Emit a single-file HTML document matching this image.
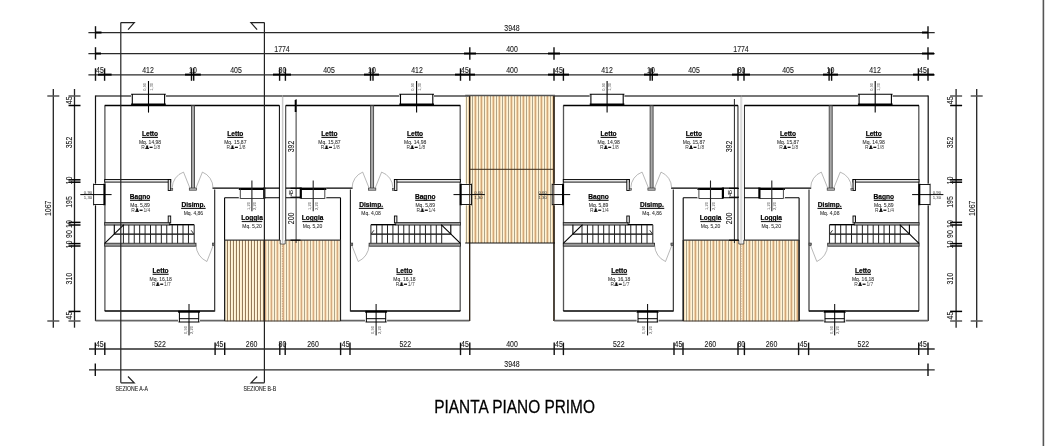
<!DOCTYPE html>
<html><head><meta charset="utf-8"><style>
html,body{margin:0;padding:0;background:#fff;width:1048px;height:446px;overflow:hidden}
svg{display:block;font-family:"Liberation Sans",sans-serif;-webkit-font-smoothing:antialiased;will-change:transform}
</style></head><body>
<svg width="1048" height="446" viewBox="0 0 1048 446">
<defs>
<pattern id="woodA" patternUnits="userSpaceOnUse" x="466" y="0" width="6" height="10" shape-rendering="crispEdges"><rect x="0" width="1" height="10" fill="#ada389"/><rect x="1" width="1" height="10" fill="#fff4d8"/><rect x="2" width="1" height="10" fill="#efd2a8"/><rect x="3" width="1" height="10" fill="#d2a678"/><rect x="4" width="1" height="10" fill="#f2dcb8"/><rect x="5" width="1" height="10" fill="#fff3d6"/></pattern>
<pattern id="woodB" patternUnits="userSpaceOnUse" x="227" y="0" width="3" height="10" shape-rendering="crispEdges"><rect x="0" width="1" height="10" fill="#957a5a"/><rect x="1" width="1" height="10" fill="#fff5da"/><rect x="2" width="1" height="10" fill="#fbeccc"/></pattern>
<pattern id="woodD" patternUnits="userSpaceOnUse" x="268" y="0" width="6" height="10" shape-rendering="crispEdges"><rect x="0" width="1" height="10" fill="#aea48a"/><rect x="1" width="1" height="10" fill="#fff4d8"/><rect x="2" width="1" height="10" fill="#f0d6b0"/><rect x="3" width="1" height="10" fill="#d6aa80"/><rect x="4" width="1" height="10" fill="#f4e0c0"/><rect x="5" width="1" height="10" fill="#fff3d6"/></pattern>
<pattern id="woodC" patternUnits="userSpaceOnUse" x="698" y="0" width="6" height="10" shape-rendering="crispEdges"><rect x="0" width="1" height="10" fill="#ada389"/><rect x="1" width="1" height="10" fill="#fff4d8"/><rect x="2" width="1" height="10" fill="#efd2a8"/><rect x="3" width="1" height="10" fill="#d2a678"/><rect x="4" width="1" height="10" fill="#f2dcb8"/><rect x="5" width="1" height="10" fill="#fff3d6"/></pattern>
<g id="unit">
<line x1="95.50" y1="96.00" x2="282.55" y2="96.00" stroke="#777" stroke-width="1.9" />
<line x1="95.50" y1="95.50" x2="95.50" y2="321.00" stroke="#111" stroke-width="1.2" />
<line x1="95.50" y1="320.60" x2="224.60" y2="320.60" stroke="#666" stroke-width="1.6" />
<line x1="104.90" y1="105.50" x2="104.90" y2="311.00" stroke="#555" stroke-width="1.3" />
<line x1="104.70" y1="105.50" x2="279.40" y2="105.50" stroke="#000" stroke-width="1.3" />
<line x1="104.70" y1="311.00" x2="214.70" y2="311.00" stroke="#000" stroke-width="1.3" />
<line x1="279.40" y1="105.30" x2="279.40" y2="240.00" stroke="#000" stroke-width="1" />
<line x1="224.60" y1="197.70" x2="224.60" y2="321.00" stroke="#000" stroke-width="1.1" />
<line x1="214.70" y1="189.60" x2="214.70" y2="311.50" stroke="#222" stroke-width="1.1" />
<line x1="212.50" y1="188.10" x2="279.40" y2="188.10" stroke="#000" stroke-width="1.3" />
<line x1="224.60" y1="197.70" x2="279.40" y2="197.70" stroke="#000" stroke-width="1.1" />
<rect x="191.50" y="105.80" width="3.00" height="83.50" fill="#a8a8a8" stroke="#444" stroke-width="0.9" />
<rect x="189.30" y="188.00" width="7.20" height="2.20" fill="#bbb" stroke="#333" stroke-width="0.7" />
<rect x="104.70" y="179.50" width="66.00" height="2.60" fill="#e6e6e6" stroke="#000" stroke-width="0.9" />
<rect x="168.20" y="179.50" width="2.50" height="11.00" fill="#e6e6e6" stroke="#000" stroke-width="0.9" />
<rect x="168.20" y="216.00" width="2.50" height="7.00" fill="#e6e6e6" stroke="#000" stroke-width="0.9" />
<rect x="170.60" y="188.60" width="2.20" height="1.80" fill="#999" stroke="#222" stroke-width="0.5" />
<rect x="104.70" y="222.40" width="64.60" height="2.70" fill="#9a9a9a" stroke="#222" stroke-width="0.8" />
<line x1="169.20" y1="224.70" x2="194.20" y2="224.70" stroke="#000" stroke-width="1.4" />
<rect x="104.70" y="243.20" width="91.30" height="3.00" fill="#9a9a9a" stroke="#222" stroke-width="0.8" />
<line x1="114.30" y1="234.10" x2="194.20" y2="234.10" stroke="#000" stroke-width="1.1" />
<line x1="114.30" y1="224.70" x2="114.30" y2="234.10" stroke="#000" stroke-width="1.1" />
<line x1="194.20" y1="224.70" x2="194.20" y2="243.20" stroke="#333" stroke-width="1.1" />
<line x1="123.40" y1="225.00" x2="123.40" y2="243.20" stroke="#222" stroke-width="1.0" />
<line x1="128.82" y1="225.00" x2="128.82" y2="243.20" stroke="#222" stroke-width="1.0" />
<line x1="134.24" y1="225.00" x2="134.24" y2="243.20" stroke="#222" stroke-width="1.0" />
<line x1="139.66" y1="225.00" x2="139.66" y2="243.20" stroke="#222" stroke-width="1.0" />
<line x1="145.08" y1="225.00" x2="145.08" y2="243.20" stroke="#222" stroke-width="1.0" />
<line x1="150.50" y1="225.00" x2="150.50" y2="243.20" stroke="#222" stroke-width="1.0" />
<line x1="155.92" y1="225.00" x2="155.92" y2="243.20" stroke="#222" stroke-width="1.0" />
<line x1="161.34" y1="225.00" x2="161.34" y2="243.20" stroke="#222" stroke-width="1.0" />
<line x1="166.76" y1="225.00" x2="166.76" y2="243.20" stroke="#222" stroke-width="1.0" />
<line x1="172.18" y1="225.00" x2="172.18" y2="243.20" stroke="#222" stroke-width="1.0" />
<line x1="177.60" y1="225.00" x2="177.60" y2="243.20" stroke="#222" stroke-width="1.0" />
<line x1="183.02" y1="225.00" x2="183.02" y2="243.20" stroke="#222" stroke-width="1.0" />
<line x1="188.44" y1="225.00" x2="188.44" y2="243.20" stroke="#222" stroke-width="1.0" />
<line x1="104.70" y1="243.40" x2="123.90" y2="224.60" stroke="#000" stroke-width="1.1" />
<path d="M191.2,230.3 L193.6,233.6" stroke="#000" stroke-width="0.8" fill="none" />
<path d="M189.8,187.8 L183.5,172.1 A16.9,16.9 0 0 0 172.2,187.8" stroke="#888" stroke-width="0.6" fill="none" />
<path d="M196.1,187.8 L202.4,172.1 A16.9,16.9 0 0 1 213.0,187.8" stroke="#888" stroke-width="0.6" fill="none" />
<path d="M213.6,244.4 L206.9,261.5 A18,18 0 0 1 196.1,245.3" stroke="#888" stroke-width="0.6" fill="none" />
<rect x="212.30" y="243.00" width="2.40" height="2.60" fill="#777" stroke="#222" stroke-width="0.5" />
<rect x="131.10" y="94.30" width="34.70" height="10.20" fill="#fff" stroke="none" stroke-width="1" />
<path d="M131.1,94.3 L165.8,94.3 M132.3,94.3 L132.3,104.2 M164.6,94.3 L164.6,104.2" stroke="#000" stroke-width="1.1" fill="none" />
<line x1="131.10" y1="104.60" x2="165.80" y2="104.60" stroke="#000" stroke-width="2.0" />
<line x1="148.50" y1="81.00" x2="148.50" y2="112.60" stroke="#000" stroke-width="1.1" />
<rect x="93.60" y="183.70" width="11.00" height="21.60" fill="#fff" stroke="none" stroke-width="1" />
<path d="M93.6,183.7 L93.6,205.3 M93.6,184.5 L104.2,184.5 M93.6,204.5 L104.2,204.5" stroke="#000" stroke-width="0.9" fill="none" />
<line x1="104.40" y1="183.70" x2="104.40" y2="205.30" stroke="#000" stroke-width="2.0" />
<line x1="80.30" y1="194.60" x2="111.60" y2="194.60" stroke="#000" stroke-width="1.0" />
<rect x="238.80" y="187.50" width="25.70" height="11.00" fill="#fff" stroke="none" stroke-width="1" />
<line x1="238.80" y1="188.90" x2="264.50" y2="188.90" stroke="#000" stroke-width="2.2" />
<path d="M240.3,188.5 L240.3,198.5 L264.4,198.5" stroke="#333" stroke-width="0.9" fill="none" />
<line x1="264.30" y1="187.50" x2="264.30" y2="198.50" stroke="#000" stroke-width="2.2" />
<line x1="251.90" y1="180.50" x2="251.90" y2="211.30" stroke="#222" stroke-width="1.1" />
<rect x="178.00" y="311.00" width="22.00" height="11.00" fill="#fff" stroke="none" stroke-width="1" />
<line x1="178.00" y1="311.70" x2="200.00" y2="311.70" stroke="#000" stroke-width="2.0" />
<path d="M179.4,311.7 L179.4,322 M198.7,311.7 L198.7,322 M179.4,318.7 L198.7,318.7 M178.5,322 L199.5,322" stroke="#000" stroke-width="1.0" fill="none" />
<line x1="189.00" y1="304.00" x2="189.00" y2="335.40" stroke="#000" stroke-width="1.0" />
</g>
<g id="blk"><use href="#unit"/><use href="#unit" transform="translate(565.1,0) scale(-1,1)"/></g>
</defs>
<rect width="1048" height="446" fill="#fff"/>
<rect x="465.20" y="95.50" width="89.80" height="147.50" fill="url(#woodA)" stroke="none" stroke-width="1" />
<rect x="224.60" y="240.00" width="40.00" height="81.30" fill="url(#woodB)" stroke="none" stroke-width="1" />
<rect x="264.60" y="240.00" width="75.90" height="81.30" fill="url(#woodD)" stroke="none" stroke-width="1" />
<rect x="683.20" y="240.00" width="115.90" height="81.30" fill="url(#woodC)" stroke="none" stroke-width="1" />
<use href="#blk"/>
<use href="#blk" transform="translate(458.6,0)"/>
<line x1="465.20" y1="95.50" x2="555.00" y2="95.50" stroke="#555" stroke-width="1.3" />
<line x1="469.70" y1="96.00" x2="469.70" y2="321.00" stroke="#3a2a1a" stroke-width="1.0" />
<line x1="553.80" y1="96.00" x2="553.80" y2="321.00" stroke="#3a2a1a" stroke-width="1.0" />
<line x1="469.70" y1="169.30" x2="553.80" y2="169.30" stroke="#3a2a1a" stroke-width="1.0" />
<line x1="465.20" y1="243.00" x2="555.00" y2="243.00" stroke="#111" stroke-width="1.2" />
<line x1="224.60" y1="240.10" x2="340.50" y2="240.10" stroke="#3a3a3a" stroke-width="1.3" />
<line x1="224.60" y1="321.00" x2="340.50" y2="321.00" stroke="#3a3530" stroke-width="1.2" />
<line x1="224.60" y1="240.00" x2="224.60" y2="321.00" stroke="#222" stroke-width="1.1" />
<line x1="340.50" y1="240.00" x2="340.50" y2="321.00" stroke="#222" stroke-width="1.1" />
<line x1="282.40" y1="243.00" x2="282.40" y2="321.00" stroke="#c9a58a" stroke-width="1.0" stroke-dasharray="1.5 1"/>
<rect x="280.20" y="97.00" width="5.00" height="147.00" fill="#fff" stroke="none" stroke-width="1" />
<path d="M280.2,240 L280.2,244 L285.2,244 L285.2,240" stroke="#333" stroke-width="0.8" fill="none" />
<line x1="282.40" y1="97.00" x2="282.40" y2="243.00" stroke="#b0b0b0" stroke-width="0.8" />
<line x1="283.40" y1="97.00" x2="283.40" y2="243.00" stroke="#d8d8d8" stroke-width="0.6" />
<line x1="683.20" y1="240.10" x2="799.10" y2="240.10" stroke="#3a3a3a" stroke-width="1.3" />
<line x1="683.20" y1="321.00" x2="799.10" y2="321.00" stroke="#3a3530" stroke-width="1.2" />
<line x1="683.20" y1="240.00" x2="683.20" y2="321.00" stroke="#222" stroke-width="1.1" />
<line x1="799.10" y1="240.00" x2="799.10" y2="321.00" stroke="#222" stroke-width="1.1" />
<line x1="741.00" y1="243.00" x2="741.00" y2="321.00" stroke="#c9a58a" stroke-width="1.0" stroke-dasharray="1.5 1"/>
<rect x="738.80" y="97.00" width="5.00" height="147.00" fill="#fff" stroke="none" stroke-width="1" />
<path d="M738.8,240 L738.8,244 L743.8,244 L743.8,240" stroke="#333" stroke-width="0.8" fill="none" />
<line x1="741.00" y1="97.00" x2="741.00" y2="243.00" stroke="#b0b0b0" stroke-width="0.8" />
<line x1="742.00" y1="97.00" x2="742.00" y2="243.00" stroke="#d8d8d8" stroke-width="0.6" />
<line x1="296.10" y1="99.00" x2="296.10" y2="243.00" stroke="#333" stroke-width="1.0" />
<line x1="295.60" y1="100.00" x2="295.60" y2="112.00" stroke="#000" stroke-width="1.8" />
<line x1="290.50" y1="188.30" x2="300.50" y2="188.30" stroke="#000" stroke-width="1.1" />
<line x1="290.50" y1="197.20" x2="300.50" y2="197.20" stroke="#000" stroke-width="1.1" />
<line x1="290.50" y1="240.20" x2="300.50" y2="240.20" stroke="#000" stroke-width="1.1" />
<line x1="734.40" y1="99.00" x2="734.40" y2="243.00" stroke="#222" stroke-width="1.0" />
<line x1="729.00" y1="188.30" x2="739.00" y2="188.30" stroke="#000" stroke-width="1.1" />
<line x1="729.00" y1="197.20" x2="739.00" y2="197.20" stroke="#000" stroke-width="1.1" />
<line x1="729.00" y1="240.20" x2="739.00" y2="240.20" stroke="#000" stroke-width="1.1" />
<line x1="120.80" y1="22.60" x2="120.80" y2="382.80" stroke="#222" stroke-width="1.2" />
<path d="M120.8,22.6 L134.3,22.6 L128.1,29.6" stroke="#222" stroke-width="1.2" fill="none" />
<path d="M120.8,382.8 L134.2,382.8 L128.0,376.5" stroke="#222" stroke-width="1.2" fill="none" />
<line x1="264.40" y1="22.60" x2="264.40" y2="382.80" stroke="#222" stroke-width="1.2" />
<path d="M264.4,22.6 L250.89999999999998,22.6 L257.09999999999997,29.6" stroke="#222" stroke-width="1.2" fill="none" />
<path d="M264.4,382.8 L250.99999999999997,382.8 L257.2,376.5" stroke="#222" stroke-width="1.2" fill="none" />
<g transform="translate(131.7,391.4) scale(0.82,1)"><text x="0" y="0" font-size="6.3" text-anchor="middle" fill="#222" stroke="#222" stroke-width="0.1">SEZIONE A-A</text></g>
<g transform="translate(259.8,391.4) scale(0.82,1)"><text x="0" y="0" font-size="6.3" text-anchor="middle" fill="#222" stroke="#222" stroke-width="0.1">SEZIONE B-B</text></g>
<line x1="1043.40" y1="0.00" x2="1043.40" y2="446.00" stroke="#555" stroke-width="1.6" />
<line x1="88.40" y1="32.60" x2="934.70" y2="32.60" stroke="#2a2a2a" stroke-width="1.35" />
<line x1="88.40" y1="53.60" x2="934.70" y2="53.60" stroke="#2a2a2a" stroke-width="1.35" />
<line x1="88.40" y1="74.80" x2="934.70" y2="74.80" stroke="#2a2a2a" stroke-width="1.35" />
<line x1="89.00" y1="349.00" x2="934.70" y2="349.00" stroke="#2a2a2a" stroke-width="1.35" />
<line x1="89.00" y1="369.80" x2="934.70" y2="369.80" stroke="#2a2a2a" stroke-width="1.35" />
<line x1="95.50" y1="26.20" x2="95.50" y2="38.70" stroke="#111" stroke-width="1.4" />
<line x1="95.50" y1="32.50" x2="101.50" y2="32.50" stroke="#000" stroke-width="2.0" />
<line x1="928.00" y1="26.20" x2="928.00" y2="38.70" stroke="#111" stroke-width="1.4" />
<line x1="922.00" y1="32.50" x2="928.00" y2="32.50" stroke="#000" stroke-width="2.0" />
<line x1="95.50" y1="47.20" x2="95.50" y2="59.70" stroke="#111" stroke-width="1.4" />
<line x1="469.80" y1="47.20" x2="469.80" y2="59.70" stroke="#111" stroke-width="1.4" />
<line x1="554.00" y1="47.20" x2="554.00" y2="59.70" stroke="#111" stroke-width="1.4" />
<line x1="928.00" y1="47.20" x2="928.00" y2="59.70" stroke="#111" stroke-width="1.4" />
<line x1="95.50" y1="53.50" x2="101.00" y2="53.50" stroke="#000" stroke-width="2.0" />
<line x1="464.00" y1="53.50" x2="476.00" y2="53.50" stroke="#000" stroke-width="2.0" />
<line x1="548.00" y1="53.50" x2="560.00" y2="53.50" stroke="#000" stroke-width="2.0" />
<line x1="922.00" y1="53.50" x2="934.00" y2="53.50" stroke="#000" stroke-width="2.0" />
<line x1="95.50" y1="68.30" x2="95.50" y2="80.80" stroke="#111" stroke-width="1.4" />
<line x1="104.60" y1="68.30" x2="104.60" y2="80.80" stroke="#111" stroke-width="1.4" />
<line x1="191.50" y1="68.30" x2="191.50" y2="80.80" stroke="#111" stroke-width="1.4" />
<line x1="193.70" y1="68.30" x2="193.70" y2="80.80" stroke="#111" stroke-width="1.4" />
<line x1="279.60" y1="68.30" x2="279.60" y2="80.80" stroke="#111" stroke-width="1.4" />
<line x1="285.40" y1="68.30" x2="285.40" y2="80.80" stroke="#111" stroke-width="1.4" />
<line x1="370.50" y1="68.30" x2="370.50" y2="80.80" stroke="#111" stroke-width="1.4" />
<line x1="373.00" y1="68.30" x2="373.00" y2="80.80" stroke="#111" stroke-width="1.4" />
<line x1="460.50" y1="68.30" x2="460.50" y2="80.80" stroke="#111" stroke-width="1.4" />
<line x1="469.80" y1="68.30" x2="469.80" y2="80.80" stroke="#111" stroke-width="1.4" />
<line x1="554.00" y1="68.30" x2="554.00" y2="80.80" stroke="#111" stroke-width="1.4" />
<line x1="563.40" y1="68.30" x2="563.40" y2="80.80" stroke="#111" stroke-width="1.4" />
<line x1="650.10" y1="68.30" x2="650.10" y2="80.80" stroke="#111" stroke-width="1.4" />
<line x1="652.30" y1="68.30" x2="652.30" y2="80.80" stroke="#111" stroke-width="1.4" />
<line x1="738.00" y1="68.30" x2="738.00" y2="80.80" stroke="#111" stroke-width="1.4" />
<line x1="744.00" y1="68.30" x2="744.00" y2="80.80" stroke="#111" stroke-width="1.4" />
<line x1="829.10" y1="68.30" x2="829.10" y2="80.80" stroke="#111" stroke-width="1.4" />
<line x1="831.60" y1="68.30" x2="831.60" y2="80.80" stroke="#111" stroke-width="1.4" />
<line x1="918.40" y1="68.30" x2="918.40" y2="80.80" stroke="#111" stroke-width="1.4" />
<line x1="928.00" y1="68.30" x2="928.00" y2="80.80" stroke="#111" stroke-width="1.4" />
<line x1="97.90" y1="74.60" x2="111.60" y2="74.60" stroke="#000" stroke-width="2.0" />
<line x1="185.00" y1="74.60" x2="200.80" y2="74.60" stroke="#000" stroke-width="2.0" />
<line x1="273.00" y1="74.60" x2="291.00" y2="74.60" stroke="#000" stroke-width="2.0" />
<line x1="364.00" y1="74.60" x2="379.00" y2="74.60" stroke="#000" stroke-width="2.0" />
<line x1="455.00" y1="74.60" x2="475.00" y2="74.60" stroke="#000" stroke-width="2.0" />
<line x1="548.00" y1="74.60" x2="569.00" y2="74.60" stroke="#000" stroke-width="2.0" />
<line x1="644.00" y1="74.60" x2="658.00" y2="74.60" stroke="#000" stroke-width="2.0" />
<line x1="732.00" y1="74.60" x2="750.00" y2="74.60" stroke="#000" stroke-width="2.0" />
<line x1="823.00" y1="74.60" x2="838.00" y2="74.60" stroke="#000" stroke-width="2.0" />
<line x1="913.00" y1="74.60" x2="934.00" y2="74.60" stroke="#000" stroke-width="2.0" />
<line x1="95.30" y1="342.60" x2="95.30" y2="355.10" stroke="#111" stroke-width="1.4" />
<line x1="104.80" y1="342.60" x2="104.80" y2="355.10" stroke="#111" stroke-width="1.4" />
<line x1="215.10" y1="342.60" x2="215.10" y2="355.10" stroke="#111" stroke-width="1.4" />
<line x1="224.70" y1="342.60" x2="224.70" y2="355.10" stroke="#111" stroke-width="1.4" />
<line x1="279.80" y1="342.60" x2="279.80" y2="355.10" stroke="#111" stroke-width="1.4" />
<line x1="285.20" y1="342.60" x2="285.20" y2="355.10" stroke="#111" stroke-width="1.4" />
<line x1="340.60" y1="342.60" x2="340.60" y2="355.10" stroke="#111" stroke-width="1.4" />
<line x1="350.00" y1="342.60" x2="350.00" y2="355.10" stroke="#111" stroke-width="1.4" />
<line x1="460.50" y1="342.60" x2="460.50" y2="355.10" stroke="#111" stroke-width="1.4" />
<line x1="469.80" y1="342.60" x2="469.80" y2="355.10" stroke="#111" stroke-width="1.4" />
<line x1="554.20" y1="342.60" x2="554.20" y2="355.10" stroke="#111" stroke-width="1.4" />
<line x1="563.40" y1="342.60" x2="563.40" y2="355.10" stroke="#111" stroke-width="1.4" />
<line x1="674.00" y1="342.60" x2="674.00" y2="355.10" stroke="#111" stroke-width="1.4" />
<line x1="683.00" y1="342.60" x2="683.00" y2="355.10" stroke="#111" stroke-width="1.4" />
<line x1="738.00" y1="342.60" x2="738.00" y2="355.10" stroke="#111" stroke-width="1.4" />
<line x1="744.40" y1="342.60" x2="744.40" y2="355.10" stroke="#111" stroke-width="1.4" />
<line x1="798.60" y1="342.60" x2="798.60" y2="355.10" stroke="#111" stroke-width="1.4" />
<line x1="808.60" y1="342.60" x2="808.60" y2="355.10" stroke="#111" stroke-width="1.4" />
<line x1="918.70" y1="342.60" x2="918.70" y2="355.10" stroke="#111" stroke-width="1.4" />
<line x1="928.00" y1="342.60" x2="928.00" y2="355.10" stroke="#111" stroke-width="1.4" />
<line x1="95.30" y1="363.40" x2="95.30" y2="375.90" stroke="#111" stroke-width="1.4" />
<line x1="928.00" y1="363.40" x2="928.00" y2="375.90" stroke="#111" stroke-width="1.4" />
<text transform="translate(512.00,31.00) scale(0.84,1)" font-size="8.3" text-anchor="middle" fill="#1a1a1a" stroke="#1a1a1a" stroke-width="0.1">3948</text>
<text transform="translate(512.00,367.10) scale(0.84,1)" font-size="8.3" text-anchor="middle" fill="#1a1a1a" stroke="#1a1a1a" stroke-width="0.1">3948</text>
<text transform="translate(282.00,52.00) scale(0.84,1)" font-size="8.3" text-anchor="middle" fill="#1a1a1a" stroke="#1a1a1a" stroke-width="0.1">1774</text>
<text transform="translate(741.00,52.00) scale(0.84,1)" font-size="8.3" text-anchor="middle" fill="#1a1a1a" stroke="#1a1a1a" stroke-width="0.1">1774</text>
<text transform="translate(512.00,52.00) scale(0.84,1)" font-size="8.3" text-anchor="middle" fill="#1a1a1a" stroke="#1a1a1a" stroke-width="0.1">400</text>
<text transform="translate(100.00,73.00) scale(0.84,1)" font-size="8.3" text-anchor="middle" fill="#1a1a1a" stroke="#1a1a1a" stroke-width="0.1">45</text>
<text transform="translate(148.00,73.00) scale(0.84,1)" font-size="8.3" text-anchor="middle" fill="#1a1a1a" stroke="#1a1a1a" stroke-width="0.1">412</text>
<text transform="translate(193.00,73.00) scale(0.84,1)" font-size="8.3" text-anchor="middle" fill="#1a1a1a" stroke="#1a1a1a" stroke-width="0.1">10</text>
<text transform="translate(236.00,73.00) scale(0.84,1)" font-size="8.3" text-anchor="middle" fill="#1a1a1a" stroke="#1a1a1a" stroke-width="0.1">405</text>
<text transform="translate(282.50,73.00) scale(0.84,1)" font-size="8.3" text-anchor="middle" fill="#1a1a1a" stroke="#1a1a1a" stroke-width="0.1">80</text>
<text transform="translate(329.00,73.00) scale(0.84,1)" font-size="8.3" text-anchor="middle" fill="#1a1a1a" stroke="#1a1a1a" stroke-width="0.1">405</text>
<text transform="translate(372.00,73.00) scale(0.84,1)" font-size="8.3" text-anchor="middle" fill="#1a1a1a" stroke="#1a1a1a" stroke-width="0.1">10</text>
<text transform="translate(417.00,73.00) scale(0.84,1)" font-size="8.3" text-anchor="middle" fill="#1a1a1a" stroke="#1a1a1a" stroke-width="0.1">412</text>
<text transform="translate(465.00,73.00) scale(0.84,1)" font-size="8.3" text-anchor="middle" fill="#1a1a1a" stroke="#1a1a1a" stroke-width="0.1">45</text>
<text transform="translate(512.00,73.00) scale(0.84,1)" font-size="8.3" text-anchor="middle" fill="#1a1a1a" stroke="#1a1a1a" stroke-width="0.1">400</text>
<text transform="translate(559.00,73.00) scale(0.84,1)" font-size="8.3" text-anchor="middle" fill="#1a1a1a" stroke="#1a1a1a" stroke-width="0.1">45</text>
<text transform="translate(607.00,73.00) scale(0.84,1)" font-size="8.3" text-anchor="middle" fill="#1a1a1a" stroke="#1a1a1a" stroke-width="0.1">412</text>
<text transform="translate(651.00,73.00) scale(0.84,1)" font-size="8.3" text-anchor="middle" fill="#1a1a1a" stroke="#1a1a1a" stroke-width="0.1">10</text>
<text transform="translate(694.00,73.00) scale(0.84,1)" font-size="8.3" text-anchor="middle" fill="#1a1a1a" stroke="#1a1a1a" stroke-width="0.1">405</text>
<text transform="translate(741.30,73.00) scale(0.84,1)" font-size="8.3" text-anchor="middle" fill="#1a1a1a" stroke="#1a1a1a" stroke-width="0.1">80</text>
<text transform="translate(788.00,73.00) scale(0.84,1)" font-size="8.3" text-anchor="middle" fill="#1a1a1a" stroke="#1a1a1a" stroke-width="0.1">405</text>
<text transform="translate(830.50,73.00) scale(0.84,1)" font-size="8.3" text-anchor="middle" fill="#1a1a1a" stroke="#1a1a1a" stroke-width="0.1">10</text>
<text transform="translate(875.00,73.00) scale(0.84,1)" font-size="8.3" text-anchor="middle" fill="#1a1a1a" stroke="#1a1a1a" stroke-width="0.1">412</text>
<text transform="translate(923.00,73.00) scale(0.84,1)" font-size="8.3" text-anchor="middle" fill="#1a1a1a" stroke="#1a1a1a" stroke-width="0.1">45</text>
<text transform="translate(99.80,347.00) scale(0.84,1)" font-size="8.3" text-anchor="middle" fill="#1a1a1a" stroke="#1a1a1a" stroke-width="0.1">45</text>
<text transform="translate(160.00,347.00) scale(0.84,1)" font-size="8.3" text-anchor="middle" fill="#1a1a1a" stroke="#1a1a1a" stroke-width="0.1">522</text>
<text transform="translate(219.60,347.00) scale(0.84,1)" font-size="8.3" text-anchor="middle" fill="#1a1a1a" stroke="#1a1a1a" stroke-width="0.1">45</text>
<text transform="translate(251.60,347.00) scale(0.84,1)" font-size="8.3" text-anchor="middle" fill="#1a1a1a" stroke="#1a1a1a" stroke-width="0.1">260</text>
<text transform="translate(282.50,347.00) scale(0.84,1)" font-size="8.3" text-anchor="middle" fill="#1a1a1a" stroke="#1a1a1a" stroke-width="0.1">80</text>
<text transform="translate(313.00,347.00) scale(0.84,1)" font-size="8.3" text-anchor="middle" fill="#1a1a1a" stroke="#1a1a1a" stroke-width="0.1">260</text>
<text transform="translate(345.70,347.00) scale(0.84,1)" font-size="8.3" text-anchor="middle" fill="#1a1a1a" stroke="#1a1a1a" stroke-width="0.1">45</text>
<text transform="translate(405.20,347.00) scale(0.84,1)" font-size="8.3" text-anchor="middle" fill="#1a1a1a" stroke="#1a1a1a" stroke-width="0.1">522</text>
<text transform="translate(465.00,347.00) scale(0.84,1)" font-size="8.3" text-anchor="middle" fill="#1a1a1a" stroke="#1a1a1a" stroke-width="0.1">45</text>
<text transform="translate(512.00,347.00) scale(0.84,1)" font-size="8.3" text-anchor="middle" fill="#1a1a1a" stroke="#1a1a1a" stroke-width="0.1">400</text>
<text transform="translate(559.00,347.00) scale(0.84,1)" font-size="8.3" text-anchor="middle" fill="#1a1a1a" stroke="#1a1a1a" stroke-width="0.1">45</text>
<text transform="translate(618.70,347.00) scale(0.84,1)" font-size="8.3" text-anchor="middle" fill="#1a1a1a" stroke="#1a1a1a" stroke-width="0.1">522</text>
<text transform="translate(678.50,347.00) scale(0.84,1)" font-size="8.3" text-anchor="middle" fill="#1a1a1a" stroke="#1a1a1a" stroke-width="0.1">45</text>
<text transform="translate(710.40,347.00) scale(0.84,1)" font-size="8.3" text-anchor="middle" fill="#1a1a1a" stroke="#1a1a1a" stroke-width="0.1">260</text>
<text transform="translate(741.30,347.00) scale(0.84,1)" font-size="8.3" text-anchor="middle" fill="#1a1a1a" stroke="#1a1a1a" stroke-width="0.1">80</text>
<text transform="translate(771.50,347.00) scale(0.84,1)" font-size="8.3" text-anchor="middle" fill="#1a1a1a" stroke="#1a1a1a" stroke-width="0.1">260</text>
<text transform="translate(803.60,347.00) scale(0.84,1)" font-size="8.3" text-anchor="middle" fill="#1a1a1a" stroke="#1a1a1a" stroke-width="0.1">45</text>
<text transform="translate(863.40,347.00) scale(0.84,1)" font-size="8.3" text-anchor="middle" fill="#1a1a1a" stroke="#1a1a1a" stroke-width="0.1">522</text>
<text transform="translate(923.00,347.00) scale(0.84,1)" font-size="8.3" text-anchor="middle" fill="#1a1a1a" stroke="#1a1a1a" stroke-width="0.1">45</text>
<line x1="53.30" y1="89.00" x2="53.30" y2="327.70" stroke="#222" stroke-width="1.3" />
<line x1="74.50" y1="89.00" x2="74.50" y2="327.70" stroke="#222" stroke-width="1.3" />
<line x1="47.30" y1="96.00" x2="59.30" y2="96.00" stroke="#555" stroke-width="1.5" />
<line x1="68.50" y1="96.00" x2="80.50" y2="96.00" stroke="#555" stroke-width="1.5" />
<line x1="47.30" y1="321.00" x2="59.30" y2="321.00" stroke="#555" stroke-width="1.5" />
<line x1="68.50" y1="321.00" x2="80.50" y2="321.00" stroke="#555" stroke-width="1.5" />
<line x1="68.50" y1="105.50" x2="80.50" y2="105.50" stroke="#000" stroke-width="1.5" />
<line x1="68.50" y1="179.80" x2="80.50" y2="179.80" stroke="#000" stroke-width="1.5" />
<line x1="68.50" y1="182.20" x2="80.50" y2="182.20" stroke="#000" stroke-width="1.5" />
<line x1="68.50" y1="222.40" x2="80.50" y2="222.40" stroke="#000" stroke-width="1.5" />
<line x1="68.50" y1="225.00" x2="80.50" y2="225.00" stroke="#000" stroke-width="1.5" />
<line x1="68.50" y1="243.60" x2="80.50" y2="243.60" stroke="#000" stroke-width="1.5" />
<line x1="68.50" y1="246.00" x2="80.50" y2="246.00" stroke="#000" stroke-width="1.5" />
<line x1="68.50" y1="311.40" x2="80.50" y2="311.40" stroke="#000" stroke-width="1.5" />
<line x1="976.70" y1="89.00" x2="976.70" y2="327.70" stroke="#222" stroke-width="1.3" />
<line x1="956.10" y1="89.00" x2="956.10" y2="327.70" stroke="#222" stroke-width="1.3" />
<line x1="970.70" y1="96.00" x2="982.70" y2="96.00" stroke="#555" stroke-width="1.5" />
<line x1="950.10" y1="96.00" x2="962.10" y2="96.00" stroke="#555" stroke-width="1.5" />
<line x1="970.70" y1="321.00" x2="982.70" y2="321.00" stroke="#555" stroke-width="1.5" />
<line x1="950.10" y1="321.00" x2="962.10" y2="321.00" stroke="#555" stroke-width="1.5" />
<line x1="950.10" y1="105.50" x2="962.10" y2="105.50" stroke="#000" stroke-width="1.5" />
<line x1="950.10" y1="179.80" x2="962.10" y2="179.80" stroke="#000" stroke-width="1.5" />
<line x1="950.10" y1="182.20" x2="962.10" y2="182.20" stroke="#000" stroke-width="1.5" />
<line x1="950.10" y1="222.40" x2="962.10" y2="222.40" stroke="#000" stroke-width="1.5" />
<line x1="950.10" y1="225.00" x2="962.10" y2="225.00" stroke="#000" stroke-width="1.5" />
<line x1="950.10" y1="243.60" x2="962.10" y2="243.60" stroke="#000" stroke-width="1.5" />
<line x1="950.10" y1="246.00" x2="962.10" y2="246.00" stroke="#000" stroke-width="1.5" />
<line x1="950.10" y1="311.40" x2="962.10" y2="311.40" stroke="#000" stroke-width="1.5" />
<text transform="translate(51.20,208.30) rotate(-90) scale(0.84,1)" font-size="8.3" text-anchor="middle" fill="#1a1a1a" stroke="#1a1a1a" stroke-width="0.1">1067</text>
<text transform="translate(71.50,100.30) rotate(-90) scale(0.84,1)" font-size="8.3" text-anchor="middle" fill="#1a1a1a" stroke="#1a1a1a" stroke-width="0.1">45</text>
<text transform="translate(71.50,142.50) rotate(-90) scale(0.84,1)" font-size="8.3" text-anchor="middle" fill="#1a1a1a" stroke="#1a1a1a" stroke-width="0.1">352</text>
<text transform="translate(71.50,180.50) rotate(-90) scale(0.84,1)" font-size="8.3" text-anchor="middle" fill="#1a1a1a" stroke="#1a1a1a" stroke-width="0.1">10</text>
<text transform="translate(71.50,202.00) rotate(-90) scale(0.84,1)" font-size="8.3" text-anchor="middle" fill="#1a1a1a" stroke="#1a1a1a" stroke-width="0.1">195</text>
<text transform="translate(71.50,224.00) rotate(-90) scale(0.84,1)" font-size="8.3" text-anchor="middle" fill="#1a1a1a" stroke="#1a1a1a" stroke-width="0.1">10</text>
<text transform="translate(71.50,234.00) rotate(-90) scale(0.84,1)" font-size="8.3" text-anchor="middle" fill="#1a1a1a" stroke="#1a1a1a" stroke-width="0.1">90</text>
<text transform="translate(71.50,244.60) rotate(-90) scale(0.84,1)" font-size="8.3" text-anchor="middle" fill="#1a1a1a" stroke="#1a1a1a" stroke-width="0.1">10</text>
<text transform="translate(71.50,278.60) rotate(-90) scale(0.84,1)" font-size="8.3" text-anchor="middle" fill="#1a1a1a" stroke="#1a1a1a" stroke-width="0.1">310</text>
<text transform="translate(71.50,315.60) rotate(-90) scale(0.84,1)" font-size="8.3" text-anchor="middle" fill="#1a1a1a" stroke="#1a1a1a" stroke-width="0.1">45</text>
<text transform="translate(975.40,208.30) rotate(-90) scale(0.84,1)" font-size="8.3" text-anchor="middle" fill="#1a1a1a" stroke="#1a1a1a" stroke-width="0.1">1067</text>
<text transform="translate(953.10,100.30) rotate(-90) scale(0.84,1)" font-size="8.3" text-anchor="middle" fill="#1a1a1a" stroke="#1a1a1a" stroke-width="0.1">45</text>
<text transform="translate(953.10,142.50) rotate(-90) scale(0.84,1)" font-size="8.3" text-anchor="middle" fill="#1a1a1a" stroke="#1a1a1a" stroke-width="0.1">352</text>
<text transform="translate(953.10,180.50) rotate(-90) scale(0.84,1)" font-size="8.3" text-anchor="middle" fill="#1a1a1a" stroke="#1a1a1a" stroke-width="0.1">10</text>
<text transform="translate(953.10,202.00) rotate(-90) scale(0.84,1)" font-size="8.3" text-anchor="middle" fill="#1a1a1a" stroke="#1a1a1a" stroke-width="0.1">195</text>
<text transform="translate(953.10,224.00) rotate(-90) scale(0.84,1)" font-size="8.3" text-anchor="middle" fill="#1a1a1a" stroke="#1a1a1a" stroke-width="0.1">10</text>
<text transform="translate(953.10,234.00) rotate(-90) scale(0.84,1)" font-size="8.3" text-anchor="middle" fill="#1a1a1a" stroke="#1a1a1a" stroke-width="0.1">90</text>
<text transform="translate(953.10,244.60) rotate(-90) scale(0.84,1)" font-size="8.3" text-anchor="middle" fill="#1a1a1a" stroke="#1a1a1a" stroke-width="0.1">10</text>
<text transform="translate(953.10,278.60) rotate(-90) scale(0.84,1)" font-size="8.3" text-anchor="middle" fill="#1a1a1a" stroke="#1a1a1a" stroke-width="0.1">310</text>
<text transform="translate(953.10,315.60) rotate(-90) scale(0.84,1)" font-size="8.3" text-anchor="middle" fill="#1a1a1a" stroke="#1a1a1a" stroke-width="0.1">45</text>
<text transform="translate(293.60,146.50) rotate(-90) scale(0.84,1)" font-size="8.3" text-anchor="middle" fill="#1a1a1a" stroke="#1a1a1a" stroke-width="0.1">392</text>
<text transform="translate(731.60,146.50) rotate(-90) scale(0.84,1)" font-size="8.3" text-anchor="middle" fill="#1a1a1a" stroke="#1a1a1a" stroke-width="0.1">392</text>
<text transform="translate(293.60,218.40) rotate(-90) scale(0.84,1)" font-size="8.3" text-anchor="middle" fill="#1a1a1a" stroke="#1a1a1a" stroke-width="0.1">200</text>
<text transform="translate(731.60,218.40) rotate(-90) scale(0.84,1)" font-size="8.3" text-anchor="middle" fill="#1a1a1a" stroke="#1a1a1a" stroke-width="0.1">200</text>
<text transform="translate(293.00,193.00) rotate(-90) scale(0.84,1)" font-size="6.0" text-anchor="middle" fill="#1a1a1a" stroke="#1a1a1a" stroke-width="0.1">45</text>
<text transform="translate(731.60,193.00) rotate(-90) scale(0.84,1)" font-size="6.0" text-anchor="middle" fill="#1a1a1a" stroke="#1a1a1a" stroke-width="0.1">45</text>
<text x="146.30" y="86.80" font-size="4.0" text-anchor="middle" font-weight="normal" fill="#555" transform="rotate(-90 146.30 86.80)" >0,90</text>
<text x="152.90" y="86.80" font-size="4.0" text-anchor="middle" font-weight="normal" fill="#555" transform="rotate(-90 152.90 86.80)" >1,30</text>
<text x="414.40" y="86.80" font-size="4.0" text-anchor="middle" font-weight="normal" fill="#555" transform="rotate(-90 414.40 86.80)" >0,90</text>
<text x="421.00" y="86.80" font-size="4.0" text-anchor="middle" font-weight="normal" fill="#555" transform="rotate(-90 421.00 86.80)" >1,30</text>
<text x="249.70" y="206.00" font-size="4.0" text-anchor="middle" font-weight="normal" fill="#555" transform="rotate(-90 249.70 206.00)" >1,20</text>
<text x="256.30" y="206.00" font-size="4.0" text-anchor="middle" font-weight="normal" fill="#555" transform="rotate(-90 256.30 206.00)" >2,20</text>
<text x="311.00" y="206.00" font-size="4.0" text-anchor="middle" font-weight="normal" fill="#555" transform="rotate(-90 311.00 206.00)" >1,20</text>
<text x="317.60" y="206.00" font-size="4.0" text-anchor="middle" font-weight="normal" fill="#555" transform="rotate(-90 317.60 206.00)" >2,20</text>
<text x="186.80" y="330.00" font-size="4.0" text-anchor="middle" font-weight="normal" fill="#555" transform="rotate(-90 186.80 330.00)" >0,90</text>
<text x="193.40" y="330.00" font-size="4.0" text-anchor="middle" font-weight="normal" fill="#555" transform="rotate(-90 193.40 330.00)" >2,20</text>
<text x="373.90" y="330.00" font-size="4.0" text-anchor="middle" font-weight="normal" fill="#555" transform="rotate(-90 373.90 330.00)" >0,90</text>
<text x="380.50" y="330.00" font-size="4.0" text-anchor="middle" font-weight="normal" fill="#555" transform="rotate(-90 380.50 330.00)" >2,20</text>
<text x="604.90" y="86.80" font-size="4.0" text-anchor="middle" font-weight="normal" fill="#555" transform="rotate(-90 604.90 86.80)" >0,90</text>
<text x="611.50" y="86.80" font-size="4.0" text-anchor="middle" font-weight="normal" fill="#555" transform="rotate(-90 611.50 86.80)" >1,30</text>
<text x="873.00" y="86.80" font-size="4.0" text-anchor="middle" font-weight="normal" fill="#555" transform="rotate(-90 873.00 86.80)" >0,90</text>
<text x="879.60" y="86.80" font-size="4.0" text-anchor="middle" font-weight="normal" fill="#555" transform="rotate(-90 879.60 86.80)" >1,30</text>
<text x="708.30" y="206.00" font-size="4.0" text-anchor="middle" font-weight="normal" fill="#555" transform="rotate(-90 708.30 206.00)" >1,20</text>
<text x="714.90" y="206.00" font-size="4.0" text-anchor="middle" font-weight="normal" fill="#555" transform="rotate(-90 714.90 206.00)" >2,20</text>
<text x="769.60" y="206.00" font-size="4.0" text-anchor="middle" font-weight="normal" fill="#555" transform="rotate(-90 769.60 206.00)" >1,20</text>
<text x="776.20" y="206.00" font-size="4.0" text-anchor="middle" font-weight="normal" fill="#555" transform="rotate(-90 776.20 206.00)" >2,20</text>
<text x="645.40" y="330.00" font-size="4.0" text-anchor="middle" font-weight="normal" fill="#555" transform="rotate(-90 645.40 330.00)" >0,90</text>
<text x="652.00" y="330.00" font-size="4.0" text-anchor="middle" font-weight="normal" fill="#555" transform="rotate(-90 652.00 330.00)" >2,20</text>
<text x="832.50" y="330.00" font-size="4.0" text-anchor="middle" font-weight="normal" fill="#555" transform="rotate(-90 832.50 330.00)" >0,90</text>
<text x="839.10" y="330.00" font-size="4.0" text-anchor="middle" font-weight="normal" fill="#555" transform="rotate(-90 839.10 330.00)" >2,20</text>
<text x="88.00" y="193.70" font-size="4.3" text-anchor="middle" font-weight="normal" fill="#333" >0,90</text>
<text x="88.00" y="198.80" font-size="4.3" text-anchor="middle" font-weight="normal" fill="#333" >1,30</text>
<text x="478.50" y="193.70" font-size="4.3" text-anchor="middle" font-weight="normal" fill="#333" >0,60</text>
<text x="478.50" y="198.80" font-size="4.3" text-anchor="middle" font-weight="normal" fill="#333" >1,30</text>
<text x="542.60" y="193.70" font-size="4.3" text-anchor="middle" font-weight="normal" fill="#333" >0,60</text>
<text x="542.60" y="198.80" font-size="4.3" text-anchor="middle" font-weight="normal" fill="#333" >1,30</text>
<text x="936.90" y="193.70" font-size="4.3" text-anchor="middle" font-weight="normal" fill="#333" >0,90</text>
<text x="936.90" y="198.80" font-size="4.3" text-anchor="middle" font-weight="normal" fill="#333" >1,30</text>
<text x="150.00" y="136.30" font-size="6.6" text-anchor="middle" font-weight="bold" fill="#000" stroke="#000" stroke-width="0.2">Letto</text>
<line x1="142.00" y1="137.40" x2="158.00" y2="137.40" stroke="#222" stroke-width="1.2" />
<text x="150.00" y="143.80" font-size="5.0" text-anchor="middle" font-weight="normal" fill="#333" stroke="#333" stroke-width="0.08">Mq. 14,98</text>
<text x="141.30" y="148.90" font-size="4.9" text-anchor="start" font-weight="normal" fill="#333" >R.</text>
<rect x="146.20" y="145.50" width="1.90" height="3.30" fill="#111" stroke="none" stroke-width="1" />
<rect x="145.30" y="147.80" width="3.70" height="1.10" fill="#111" stroke="none" stroke-width="1" />
<rect x="149.60" y="146.70" width="3.00" height="1.30" fill="#111" stroke="none" stroke-width="1" />
<text x="153.40" y="148.90" font-size="4.9" text-anchor="start" font-weight="normal" fill="#444" >1/8</text>
<text x="608.60" y="136.30" font-size="6.6" text-anchor="middle" font-weight="bold" fill="#000" stroke="#000" stroke-width="0.2">Letto</text>
<line x1="600.60" y1="137.40" x2="616.60" y2="137.40" stroke="#222" stroke-width="1.2" />
<text x="608.60" y="143.80" font-size="5.0" text-anchor="middle" font-weight="normal" fill="#333" stroke="#333" stroke-width="0.08">Mq. 14,98</text>
<text x="599.90" y="148.90" font-size="4.9" text-anchor="start" font-weight="normal" fill="#333" >R.</text>
<rect x="604.80" y="145.50" width="1.90" height="3.30" fill="#111" stroke="none" stroke-width="1" />
<rect x="603.90" y="147.80" width="3.70" height="1.10" fill="#111" stroke="none" stroke-width="1" />
<rect x="608.20" y="146.70" width="3.00" height="1.30" fill="#111" stroke="none" stroke-width="1" />
<text x="612.00" y="148.90" font-size="4.9" text-anchor="start" font-weight="normal" fill="#444" >1/8</text>
<text x="235.30" y="136.30" font-size="6.6" text-anchor="middle" font-weight="bold" fill="#000" stroke="#000" stroke-width="0.2">Letto</text>
<line x1="227.30" y1="137.40" x2="243.30" y2="137.40" stroke="#222" stroke-width="1.2" />
<text x="235.30" y="143.80" font-size="5.0" text-anchor="middle" font-weight="normal" fill="#333" stroke="#333" stroke-width="0.08">Mq. 15,87</text>
<text x="226.60" y="148.90" font-size="4.9" text-anchor="start" font-weight="normal" fill="#333" >R.</text>
<rect x="231.50" y="145.50" width="1.90" height="3.30" fill="#111" stroke="none" stroke-width="1" />
<rect x="230.60" y="147.80" width="3.70" height="1.10" fill="#111" stroke="none" stroke-width="1" />
<rect x="234.90" y="146.70" width="3.00" height="1.30" fill="#111" stroke="none" stroke-width="1" />
<text x="238.70" y="148.90" font-size="4.9" text-anchor="start" font-weight="normal" fill="#444" >1/8</text>
<text x="693.90" y="136.30" font-size="6.6" text-anchor="middle" font-weight="bold" fill="#000" stroke="#000" stroke-width="0.2">Letto</text>
<line x1="685.90" y1="137.40" x2="701.90" y2="137.40" stroke="#222" stroke-width="1.2" />
<text x="693.90" y="143.80" font-size="5.0" text-anchor="middle" font-weight="normal" fill="#333" stroke="#333" stroke-width="0.08">Mq. 15,87</text>
<text x="685.20" y="148.90" font-size="4.9" text-anchor="start" font-weight="normal" fill="#333" >R.</text>
<rect x="690.10" y="145.50" width="1.90" height="3.30" fill="#111" stroke="none" stroke-width="1" />
<rect x="689.20" y="147.80" width="3.70" height="1.10" fill="#111" stroke="none" stroke-width="1" />
<rect x="693.50" y="146.70" width="3.00" height="1.30" fill="#111" stroke="none" stroke-width="1" />
<text x="697.30" y="148.90" font-size="4.9" text-anchor="start" font-weight="normal" fill="#444" >1/8</text>
<text x="329.40" y="136.30" font-size="6.6" text-anchor="middle" font-weight="bold" fill="#000" stroke="#000" stroke-width="0.2">Letto</text>
<line x1="321.40" y1="137.40" x2="337.40" y2="137.40" stroke="#222" stroke-width="1.2" />
<text x="329.40" y="143.80" font-size="5.0" text-anchor="middle" font-weight="normal" fill="#333" stroke="#333" stroke-width="0.08">Mq. 15,87</text>
<text x="320.70" y="148.90" font-size="4.9" text-anchor="start" font-weight="normal" fill="#333" >R.</text>
<rect x="325.60" y="145.50" width="1.90" height="3.30" fill="#111" stroke="none" stroke-width="1" />
<rect x="324.70" y="147.80" width="3.70" height="1.10" fill="#111" stroke="none" stroke-width="1" />
<rect x="329.00" y="146.70" width="3.00" height="1.30" fill="#111" stroke="none" stroke-width="1" />
<text x="332.80" y="148.90" font-size="4.9" text-anchor="start" font-weight="normal" fill="#444" >1/8</text>
<text x="788.00" y="136.30" font-size="6.6" text-anchor="middle" font-weight="bold" fill="#000" stroke="#000" stroke-width="0.2">Letto</text>
<line x1="780.00" y1="137.40" x2="796.00" y2="137.40" stroke="#222" stroke-width="1.2" />
<text x="788.00" y="143.80" font-size="5.0" text-anchor="middle" font-weight="normal" fill="#333" stroke="#333" stroke-width="0.08">Mq. 15,87</text>
<text x="779.30" y="148.90" font-size="4.9" text-anchor="start" font-weight="normal" fill="#333" >R.</text>
<rect x="784.20" y="145.50" width="1.90" height="3.30" fill="#111" stroke="none" stroke-width="1" />
<rect x="783.30" y="147.80" width="3.70" height="1.10" fill="#111" stroke="none" stroke-width="1" />
<rect x="787.60" y="146.70" width="3.00" height="1.30" fill="#111" stroke="none" stroke-width="1" />
<text x="791.40" y="148.90" font-size="4.9" text-anchor="start" font-weight="normal" fill="#444" >1/8</text>
<text x="415.10" y="136.30" font-size="6.6" text-anchor="middle" font-weight="bold" fill="#000" stroke="#000" stroke-width="0.2">Letto</text>
<line x1="407.10" y1="137.40" x2="423.10" y2="137.40" stroke="#222" stroke-width="1.2" />
<text x="415.10" y="143.80" font-size="5.0" text-anchor="middle" font-weight="normal" fill="#333" stroke="#333" stroke-width="0.08">Mq. 14,98</text>
<text x="406.40" y="148.90" font-size="4.9" text-anchor="start" font-weight="normal" fill="#333" >R.</text>
<rect x="411.30" y="145.50" width="1.90" height="3.30" fill="#111" stroke="none" stroke-width="1" />
<rect x="410.40" y="147.80" width="3.70" height="1.10" fill="#111" stroke="none" stroke-width="1" />
<rect x="414.70" y="146.70" width="3.00" height="1.30" fill="#111" stroke="none" stroke-width="1" />
<text x="418.50" y="148.90" font-size="4.9" text-anchor="start" font-weight="normal" fill="#444" >1/8</text>
<text x="873.70" y="136.30" font-size="6.6" text-anchor="middle" font-weight="bold" fill="#000" stroke="#000" stroke-width="0.2">Letto</text>
<line x1="865.70" y1="137.40" x2="881.70" y2="137.40" stroke="#222" stroke-width="1.2" />
<text x="873.70" y="143.80" font-size="5.0" text-anchor="middle" font-weight="normal" fill="#333" stroke="#333" stroke-width="0.08">Mq. 14,98</text>
<text x="865.00" y="148.90" font-size="4.9" text-anchor="start" font-weight="normal" fill="#333" >R.</text>
<rect x="869.90" y="145.50" width="1.90" height="3.30" fill="#111" stroke="none" stroke-width="1" />
<rect x="869.00" y="147.80" width="3.70" height="1.10" fill="#111" stroke="none" stroke-width="1" />
<rect x="873.30" y="146.70" width="3.00" height="1.30" fill="#111" stroke="none" stroke-width="1" />
<text x="877.10" y="148.90" font-size="4.9" text-anchor="start" font-weight="normal" fill="#444" >1/8</text>
<text x="140.00" y="199.20" font-size="6.6" text-anchor="middle" font-weight="bold" fill="#000" stroke="#000" stroke-width="0.2">Bagno</text>
<line x1="130.00" y1="200.30" x2="150.00" y2="200.30" stroke="#222" stroke-width="1.2" />
<text x="140.00" y="206.70" font-size="5.0" text-anchor="middle" font-weight="normal" fill="#333" stroke="#333" stroke-width="0.08">Mq. 5,89</text>
<text x="131.30" y="211.80" font-size="4.9" text-anchor="start" font-weight="normal" fill="#333" >R.</text>
<rect x="136.20" y="208.40" width="1.90" height="3.30" fill="#111" stroke="none" stroke-width="1" />
<rect x="135.30" y="210.70" width="3.70" height="1.10" fill="#111" stroke="none" stroke-width="1" />
<rect x="139.60" y="209.60" width="3.00" height="1.30" fill="#111" stroke="none" stroke-width="1" />
<text x="143.40" y="211.80" font-size="4.9" text-anchor="start" font-weight="normal" fill="#444" >1/4</text>
<text x="598.60" y="199.20" font-size="6.6" text-anchor="middle" font-weight="bold" fill="#000" stroke="#000" stroke-width="0.2">Bagno</text>
<line x1="588.60" y1="200.30" x2="608.60" y2="200.30" stroke="#222" stroke-width="1.2" />
<text x="598.60" y="206.70" font-size="5.0" text-anchor="middle" font-weight="normal" fill="#333" stroke="#333" stroke-width="0.08">Mq. 5,89</text>
<text x="589.90" y="211.80" font-size="4.9" text-anchor="start" font-weight="normal" fill="#333" >R.</text>
<rect x="594.80" y="208.40" width="1.90" height="3.30" fill="#111" stroke="none" stroke-width="1" />
<rect x="593.90" y="210.70" width="3.70" height="1.10" fill="#111" stroke="none" stroke-width="1" />
<rect x="598.20" y="209.60" width="3.00" height="1.30" fill="#111" stroke="none" stroke-width="1" />
<text x="602.00" y="211.80" font-size="4.9" text-anchor="start" font-weight="normal" fill="#444" >1/4</text>
<text x="425.20" y="199.20" font-size="6.6" text-anchor="middle" font-weight="bold" fill="#000" stroke="#000" stroke-width="0.2">Bagno</text>
<line x1="415.20" y1="200.30" x2="435.20" y2="200.30" stroke="#222" stroke-width="1.2" />
<text x="425.20" y="206.70" font-size="5.0" text-anchor="middle" font-weight="normal" fill="#333" stroke="#333" stroke-width="0.08">Mq. 5,89</text>
<text x="416.50" y="211.80" font-size="4.9" text-anchor="start" font-weight="normal" fill="#333" >R.</text>
<rect x="421.40" y="208.40" width="1.90" height="3.30" fill="#111" stroke="none" stroke-width="1" />
<rect x="420.50" y="210.70" width="3.70" height="1.10" fill="#111" stroke="none" stroke-width="1" />
<rect x="424.80" y="209.60" width="3.00" height="1.30" fill="#111" stroke="none" stroke-width="1" />
<text x="428.60" y="211.80" font-size="4.9" text-anchor="start" font-weight="normal" fill="#444" >1/4</text>
<text x="883.80" y="199.20" font-size="6.6" text-anchor="middle" font-weight="bold" fill="#000" stroke="#000" stroke-width="0.2">Bagno</text>
<line x1="873.80" y1="200.30" x2="893.80" y2="200.30" stroke="#222" stroke-width="1.2" />
<text x="883.80" y="206.70" font-size="5.0" text-anchor="middle" font-weight="normal" fill="#333" stroke="#333" stroke-width="0.08">Mq. 5,89</text>
<text x="875.10" y="211.80" font-size="4.9" text-anchor="start" font-weight="normal" fill="#333" >R.</text>
<rect x="880.00" y="208.40" width="1.90" height="3.30" fill="#111" stroke="none" stroke-width="1" />
<rect x="879.10" y="210.70" width="3.70" height="1.10" fill="#111" stroke="none" stroke-width="1" />
<rect x="883.40" y="209.60" width="3.00" height="1.30" fill="#111" stroke="none" stroke-width="1" />
<text x="887.20" y="211.80" font-size="4.9" text-anchor="start" font-weight="normal" fill="#444" >1/4</text>
<text x="193.40" y="207.30" font-size="6.6" text-anchor="middle" font-weight="bold" fill="#000" stroke="#000" stroke-width="0.2">Disimp.</text>
<line x1="181.15" y1="208.40" x2="205.65" y2="208.40" stroke="#222" stroke-width="1.2" />
<text x="193.40" y="214.80" font-size="5.0" text-anchor="middle" font-weight="normal" fill="#333" stroke="#333" stroke-width="0.08">Mq. 4,86</text>
<text x="652.00" y="207.30" font-size="6.6" text-anchor="middle" font-weight="bold" fill="#000" stroke="#000" stroke-width="0.2">Disimp.</text>
<line x1="639.75" y1="208.40" x2="664.25" y2="208.40" stroke="#222" stroke-width="1.2" />
<text x="652.00" y="214.80" font-size="5.0" text-anchor="middle" font-weight="normal" fill="#333" stroke="#333" stroke-width="0.08">Mq. 4,86</text>
<text x="371.10" y="207.30" font-size="6.6" text-anchor="middle" font-weight="bold" fill="#000" stroke="#000" stroke-width="0.2">Disimp.</text>
<line x1="358.85" y1="208.40" x2="383.35" y2="208.40" stroke="#222" stroke-width="1.2" />
<text x="371.10" y="214.80" font-size="5.0" text-anchor="middle" font-weight="normal" fill="#333" stroke="#333" stroke-width="0.08">Mq. 4,08</text>
<text x="829.70" y="207.30" font-size="6.6" text-anchor="middle" font-weight="bold" fill="#000" stroke="#000" stroke-width="0.2">Disimp.</text>
<line x1="817.45" y1="208.40" x2="841.95" y2="208.40" stroke="#222" stroke-width="1.2" />
<text x="829.70" y="214.80" font-size="5.0" text-anchor="middle" font-weight="normal" fill="#333" stroke="#333" stroke-width="0.08">Mq. 4,08</text>
<text x="252.00" y="220.40" font-size="6.6" text-anchor="middle" font-weight="bold" fill="#000" stroke="#000" stroke-width="0.2">Loggia</text>
<line x1="241.70" y1="221.50" x2="262.30" y2="221.50" stroke="#222" stroke-width="1.2" />
<text x="252.00" y="227.90" font-size="5.0" text-anchor="middle" font-weight="normal" fill="#333" stroke="#333" stroke-width="0.08">Mq. 5,20</text>
<text x="710.60" y="220.40" font-size="6.6" text-anchor="middle" font-weight="bold" fill="#000" stroke="#000" stroke-width="0.2">Loggia</text>
<line x1="700.30" y1="221.50" x2="720.90" y2="221.50" stroke="#222" stroke-width="1.2" />
<text x="710.60" y="227.90" font-size="5.0" text-anchor="middle" font-weight="normal" fill="#333" stroke="#333" stroke-width="0.08">Mq. 5,20</text>
<text x="312.60" y="220.40" font-size="6.6" text-anchor="middle" font-weight="bold" fill="#000" stroke="#000" stroke-width="0.2">Loggia</text>
<line x1="302.30" y1="221.50" x2="322.90" y2="221.50" stroke="#222" stroke-width="1.2" />
<text x="312.60" y="227.90" font-size="5.0" text-anchor="middle" font-weight="normal" fill="#333" stroke="#333" stroke-width="0.08">Mq. 5,20</text>
<text x="771.20" y="220.40" font-size="6.6" text-anchor="middle" font-weight="bold" fill="#000" stroke="#000" stroke-width="0.2">Loggia</text>
<line x1="760.90" y1="221.50" x2="781.50" y2="221.50" stroke="#222" stroke-width="1.2" />
<text x="771.20" y="227.90" font-size="5.0" text-anchor="middle" font-weight="normal" fill="#333" stroke="#333" stroke-width="0.08">Mq. 5,20</text>
<text x="160.60" y="273.20" font-size="6.6" text-anchor="middle" font-weight="bold" fill="#000" stroke="#000" stroke-width="0.2">Letto</text>
<line x1="152.60" y1="274.30" x2="168.60" y2="274.30" stroke="#222" stroke-width="1.2" />
<text x="160.60" y="280.70" font-size="5.0" text-anchor="middle" font-weight="normal" fill="#333" stroke="#333" stroke-width="0.08">Mq. 16,18</text>
<text x="151.90" y="285.80" font-size="4.9" text-anchor="start" font-weight="normal" fill="#333" >R.</text>
<rect x="156.80" y="282.40" width="1.90" height="3.30" fill="#111" stroke="none" stroke-width="1" />
<rect x="155.90" y="284.70" width="3.70" height="1.10" fill="#111" stroke="none" stroke-width="1" />
<rect x="160.20" y="283.60" width="3.00" height="1.30" fill="#111" stroke="none" stroke-width="1" />
<text x="164.00" y="285.80" font-size="4.9" text-anchor="start" font-weight="normal" fill="#444" >1/7</text>
<text x="619.20" y="273.20" font-size="6.6" text-anchor="middle" font-weight="bold" fill="#000" stroke="#000" stroke-width="0.2">Letto</text>
<line x1="611.20" y1="274.30" x2="627.20" y2="274.30" stroke="#222" stroke-width="1.2" />
<text x="619.20" y="280.70" font-size="5.0" text-anchor="middle" font-weight="normal" fill="#333" stroke="#333" stroke-width="0.08">Mq. 16,18</text>
<text x="610.50" y="285.80" font-size="4.9" text-anchor="start" font-weight="normal" fill="#333" >R.</text>
<rect x="615.40" y="282.40" width="1.90" height="3.30" fill="#111" stroke="none" stroke-width="1" />
<rect x="614.50" y="284.70" width="3.70" height="1.10" fill="#111" stroke="none" stroke-width="1" />
<rect x="618.80" y="283.60" width="3.00" height="1.30" fill="#111" stroke="none" stroke-width="1" />
<text x="622.60" y="285.80" font-size="4.9" text-anchor="start" font-weight="normal" fill="#444" >1/7</text>
<text x="404.40" y="273.20" font-size="6.6" text-anchor="middle" font-weight="bold" fill="#000" stroke="#000" stroke-width="0.2">Letto</text>
<line x1="396.40" y1="274.30" x2="412.40" y2="274.30" stroke="#222" stroke-width="1.2" />
<text x="404.40" y="280.70" font-size="5.0" text-anchor="middle" font-weight="normal" fill="#333" stroke="#333" stroke-width="0.08">Mq. 16,18</text>
<text x="395.70" y="285.80" font-size="4.9" text-anchor="start" font-weight="normal" fill="#333" >R.</text>
<rect x="400.60" y="282.40" width="1.90" height="3.30" fill="#111" stroke="none" stroke-width="1" />
<rect x="399.70" y="284.70" width="3.70" height="1.10" fill="#111" stroke="none" stroke-width="1" />
<rect x="404.00" y="283.60" width="3.00" height="1.30" fill="#111" stroke="none" stroke-width="1" />
<text x="407.80" y="285.80" font-size="4.9" text-anchor="start" font-weight="normal" fill="#444" >1/7</text>
<text x="863.00" y="273.20" font-size="6.6" text-anchor="middle" font-weight="bold" fill="#000" stroke="#000" stroke-width="0.2">Letto</text>
<line x1="855.00" y1="274.30" x2="871.00" y2="274.30" stroke="#222" stroke-width="1.2" />
<text x="863.00" y="280.70" font-size="5.0" text-anchor="middle" font-weight="normal" fill="#333" stroke="#333" stroke-width="0.08">Mq. 16,18</text>
<text x="854.30" y="285.80" font-size="4.9" text-anchor="start" font-weight="normal" fill="#333" >R.</text>
<rect x="859.20" y="282.40" width="1.90" height="3.30" fill="#111" stroke="none" stroke-width="1" />
<rect x="858.30" y="284.70" width="3.70" height="1.10" fill="#111" stroke="none" stroke-width="1" />
<rect x="862.60" y="283.60" width="3.00" height="1.30" fill="#111" stroke="none" stroke-width="1" />
<text x="866.40" y="285.80" font-size="4.9" text-anchor="start" font-weight="normal" fill="#444" >1/7</text>
<text x="434.2" y="413.2" font-size="18" fill="#000" stroke="#000" stroke-width="0.25" transform="translate(434.2,0) scale(0.857,1) translate(-434.2,0)">PIANTA PIANO PRIMO</text>
</svg>
</body></html>
